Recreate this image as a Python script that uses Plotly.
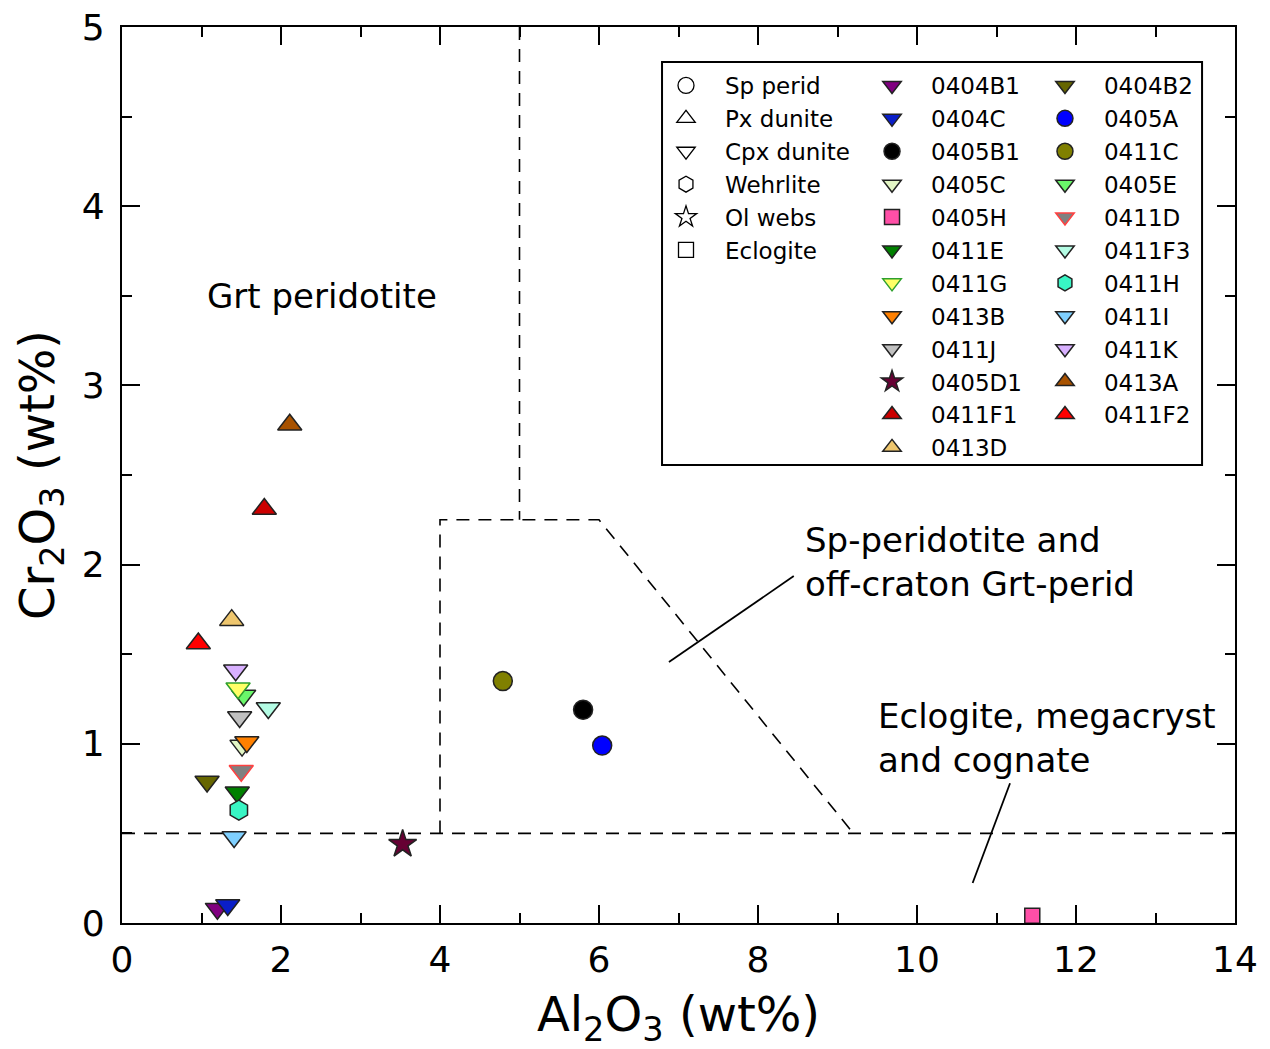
import plotly.graph_objects as go

FONT = "DejaVu Sans"

# Sample compositions (wt%)
samples = ["0404B1", "0404B2", "0404C", "0405A", "0405B1", "0411C", "0405C", "0405E",
           "0405H", "0411D", "0411E", "0411F3", "0411G", "0411H", "0413B", "0411I",
           "0411J", "0411K", "0405D1", "0413A", "0411F1", "0411F2", "0413D"]
al2o3 = [1.20, 1.07, 1.33, 6.04, 5.80, 4.79, 1.51, 1.53,
         11.45, 1.50, 1.45, 1.84, 1.46, 1.47, 1.57, 1.41,
         1.48, 1.43, 3.53, 2.11, 1.79, 0.96, 1.38]
cr2o3 = [0.08, 0.79, 0.10, 0.99, 1.19, 1.35, 0.99, 1.27,
         0.04, 0.85, 0.73, 1.20, 1.31, 0.63, 1.01, 0.48,
         1.15, 1.41, 0.44, 2.78, 2.31, 1.56, 1.69]
rock_type = ["Cpx dunite", "Cpx dunite", "Cpx dunite", "Sp perid", "Sp perid", "Sp perid",
             "Cpx dunite", "Cpx dunite", "Eclogite", "Cpx dunite", "Cpx dunite", "Cpx dunite",
             "Cpx dunite", "Wehrlite", "Cpx dunite", "Cpx dunite", "Cpx dunite", "Cpx dunite",
             "Ol webs", "Px dunite", "Px dunite", "Px dunite", "Px dunite"]
fill_colors = ["#800080", "#666600", "#0a1ec8", "#0000ff", "#000000", "#808000", "#e2f5c4",
               "#6af76a", "#ff4fa7", "#808080", "#008000", "#b4fce4", "#ffff66", "#38f5c4",
               "#ff8000", "#7fd0ff", "#c0c0c0", "#d8b0ff", "#660033", "#a85200", "#cc0000",
               "#ff0000", "#eec66e"]
edge_colors = ["#222222"] * 23
edge_colors[samples.index("0411D")] = "#ff4040"
edge_colors[samples.index("0411G")] = "#2ea02e"

# Legend layout: which legend column each sample sits in, and the row order
legend_col = {"0404B1": 2, "0404C": 2, "0405B1": 2, "0405C": 2, "0405H": 2, "0411E": 2,
              "0411G": 2, "0413B": 2, "0411J": 2, "0405D1": 2, "0411F1": 2, "0413D": 2,
              "0404B2": 3, "0405A": 3, "0411C": 3, "0405E": 3, "0411D": 3, "0411F3": 3,
              "0411H": 3, "0411I": 3, "0411K": 3, "0413A": 3, "0411F2": 3}
legend_order = ["0404B1", "0404B2", "0404C", "0405A", "0405B1", "0411C", "0405C", "0405E",
                "0405H", "0411D", "0411E", "0411F3", "0411G", "0411H", "0413B", "0411I",
                "0411J", "0411K", "0405D1", "0413A", "0411F1", "0411F2", "0413D"]
# drawing order (later on top)
draw_order = ["0404B1", "0404C", "0405E", "0411G", "0405C", "0413B", "0411K", "0411J",
              "0411F3", "0411D", "0404B2", "0411E", "0411H", "0411I", "0405D1", "0411C",
              "0405B1", "0405A", "0405H", "0413A", "0411F1", "0411F2", "0413D"]

rock_types = ["Sp perid", "Px dunite", "Cpx dunite", "Wehrlite", "Ol webs", "Eclogite"]
rock_symbols = ["circle", "triangle-up", "triangle-down", "hexagon", "star", "square"]
rock_sizes = [19, 21, 21, 20, 21, 15]

# Field boundaries
grt_sp_x = [5, 5]
grt_sp_y = [5, 2.25]
sp_field_x = [4, 4, 6, 9.2]
sp_field_y = [0.5, 2.25, 2.25, 0.5]
eclogite_x = [0, 14]
eclogite_y = [0.5, 0.5]
leader1_x = [6.88, 8.45]
leader1_y = [1.456, 1.936]
leader2_x = [10.70, 11.17]
leader2_y = [0.223, 0.78]

fig = go.Figure()

for bx, by in [(grt_sp_x, grt_sp_y), (sp_field_x, sp_field_y), (eclogite_x, eclogite_y)]:
    fig.add_trace(go.Scatter(x=bx, y=by, mode="lines", showlegend=False, hoverinfo="skip",
                             line=dict(color="black", width=1.6, dash="13px,9px")))
for bx, by in [(leader1_x, leader1_y), (leader2_x, leader2_y)]:
    fig.add_trace(go.Scatter(x=bx, y=by, mode="lines", showlegend=False, hoverinfo="skip",
                             line=dict(color="black", width=1.8)))

# Rock-type key (open symbols)
for i, (rt, sym) in enumerate(zip(rock_types, rock_symbols)):
    fig.add_trace(go.Scatter(x=[None], y=[None], mode="markers", name=rt, legend="legend",
                             legendrank=i + 1,
                             marker=dict(symbol=sym, size=rock_sizes[i], color="white",
                                         line=dict(color="black", width=1.3))))

for name in draw_order:
    i = samples.index(name)
    k = rock_types.index(rock_type[i])
    col = legend_col[name]
    fig.add_trace(go.Scatter(
        x=[al2o3[i]], y=[cr2o3[i]], mode="markers", name=name,
        legend="legend%d" % col, legendrank=legend_order.index(name) + 1,
        marker=dict(symbol=rock_symbols[k], size=rock_sizes[k], color=fill_colors[i],
                    line=dict(color=edge_colors[i], width=1.5)),
    ))

txt = dict(family=FONT, size=34, color="black")
fig.add_annotation(x=2.52, y=3.50, text="Grt peridotite", showarrow=False, font=txt,
                   xref="x", yref="y")
fig.add_annotation(x=8.57, y=2.015, text="Sp-peridotite and<br>off-craton Grt-perid",
                   showarrow=False, font=txt, xanchor="left", align="left", xref="x", yref="y")
fig.add_annotation(x=9.49, y=1.03, text="Eclogite, megacryst<br>and cognate",
                   showarrow=False, font=txt, xanchor="left", align="left", xref="x", yref="y")

# Legend frame
fig.add_shape(type="rect", xref="paper", yref="paper", x0=0.4852, x1=0.9704, y0=0.5112, y1=0.961,
              line=dict(color="black", width=2), fillcolor="white", layer="below")

leg = dict(xanchor="left", yanchor="top", bgcolor="rgba(0,0,0,0)", borderwidth=0,
           font=dict(family=FONT, size=23, color="black"), itemwidth=68,
           tracegroupgap=0, traceorder="normal", itemclick=False, itemdoubleclick=False)
axis_common = dict(showline=True, linewidth=2.2, linecolor="black", mirror="ticks",
                   ticks="inside", ticklen=18, tickwidth=2, tickcolor="black",
                   showgrid=False, zeroline=False, automargin=False,
                   tickfont=dict(family=FONT, size=36, color="black"))

fig.update_layout(
    width=1270, height=1049,
    margin=dict(l=122, r=35, t=27, b=126, autoexpand=False),
    paper_bgcolor="white", plot_bgcolor="white",
    font=dict(family=FONT, color="black"),
    xaxis=dict(range=[0, 14], dtick=2, tick0=0, ticklabelstandoff=4,
               minor=dict(dtick=1, ticks="inside", ticklen=10, tickwidth=2, tickcolor="black"),
               title=dict(text="Al<sub>2</sub>O<sub>3</sub> (wt%)",
                          font=dict(family=FONT, size=48, color="black"), standoff=30),
               **axis_common),
    yaxis=dict(range=[0, 5], dtick=1, tick0=0, ticklabelstandoff=8,
               minor=dict(dtick=0.5, ticks="inside", ticklen=10, tickwidth=2, tickcolor="black"),
               title=dict(text="Cr<sub>2</sub>O<sub>3</sub> (wt%)",
                          font=dict(family=FONT, size=48, color="black"), standoff=12),
               **axis_common),
    legend=dict(x=0.4717, y=0.9587, **leg),
    legend2=dict(x=0.6568, y=0.9587, **leg),
    legend3=dict(x=0.8122, y=0.9587, **leg),
)

fig.write_html("out.html")
